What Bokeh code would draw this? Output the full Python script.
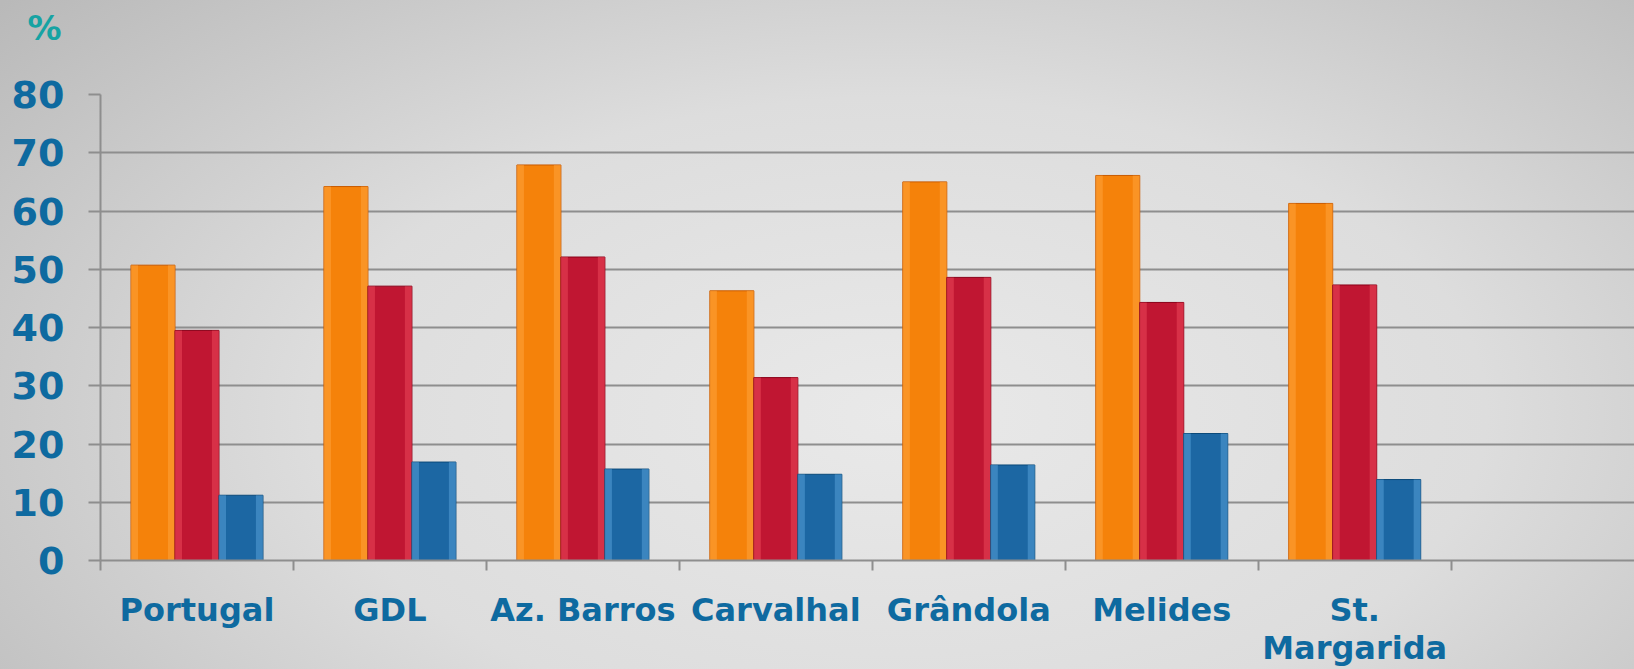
from bokeh.plotting import figure
from bokeh.models import Range1d, FixedTicker, Title
from bokeh.embed import file_html
from bokeh.resources import INLINE
import numpy as np

categories = ["Portugal", "GDL", "Az. Barros", "Carvalhal", "Grândola", "Melides", "St.\nMargarida"]
series_orange = [50.7, 64.2, 67.9, 46.3, 65.0, 66.1, 61.3]
series_red = [39.5, 47.1, 52.1, 31.4, 48.6, 44.3, 47.3]
series_blue = [11.2, 16.9, 15.7, 14.8, 16.4, 21.8, 13.9]
y_ticks = [0, 10, 20, 30, 40, 50, 60, 70, 80]
unit_label = "%"

LABEL_BLUE = "#0e6aa0"
GRID = "#8e8e8e"
FONT = "DejaVu Sans"

p = figure(width=1634, height=669, x_range=Range1d(0, 7.95), y_range=Range1d(0, 80),
           output_backend="svg", toolbar_location=None,
           min_border_left=100, min_border_right=0, min_border_top=94, min_border_bottom=109)
p.outline_line_color = None
p.border_fill_color = None
p.background_fill_color = None
p.styles = {"background": "radial-gradient(ellipse 72% 95% at 55% 62%, #e9e9e9 0%, #dddddd 50%, #b9b9b9 100%)"}

p.title.visible = False
p.title.standoff = 0
# spacer (a blank title) between the frame and the unit label
p.add_layout(Title(text=" ", text_font_size="10px", standoff=27, text_color="#dddddd"), "above")
p.add_layout(Title(text=unit_label, align="left", vertical_align="top", offset=-73, standoff=10,
                   text_font=FONT, text_font_style="bold", text_font_size="34px",
                   text_color="#16a3a3"), "above")

n = len(categories)
centers = np.arange(n) + 0.5
bw = 0.228
series = [
    (series_orange, -bw, "#f5820a", "#ffa640", "#c85a00"),
    (series_red, 0.0, "#c01632", "#ee4a5c", "#8a0018"),
    (series_blue, bw, "#1c67a3", "#5aa3dc", "#0b4a7a"),
]
for vals, off, col, light, dark in series:
    xs = centers + off
    p.vbar(x=xs, top=vals, width=bw, bottom=0, fill_color=col, line_color=dark, line_width=1)
    # bevel highlights on the sides
    p.vbar(x=xs - bw * 0.42, top=vals, width=bw * 0.16, bottom=0, fill_color=light,
           fill_alpha=0.5, line_color=None)
    p.vbar(x=xs + bw * 0.42, top=vals, width=bw * 0.16, bottom=0, fill_color=light,
           fill_alpha=0.5, line_color=None)

# x axis: labels at category centres, ticks (minor) at category boundaries
p.xaxis.ticker = FixedTicker(ticks=list(centers), minor_ticks=list(range(n + 1)))
p.xaxis.major_label_overrides = {float(c): name for c, name in zip(centers, categories)}
p.xaxis.major_tick_out = 0
p.xaxis.major_tick_in = 0
p.xaxis.minor_tick_out = 10
p.xaxis.minor_tick_in = 0
p.xaxis.minor_tick_line_color = GRID
p.xaxis.minor_tick_line_width = 2
p.xaxis.axis_line_color = GRID
p.xaxis.axis_line_width = 2
p.xaxis.major_label_text_font = FONT
p.xaxis.major_label_text_font_style = "bold"
p.xaxis.major_label_text_font_size = "32px"
p.xaxis.major_label_text_color = LABEL_BLUE
p.xaxis.major_label_text_line_height = 1.0
p.xaxis.major_label_standoff = 20

# y axis
p.yaxis.ticker = FixedTicker(ticks=y_ticks)
p.yaxis.major_tick_out = 12
p.yaxis.major_tick_in = 0
p.yaxis.major_tick_line_color = GRID
p.yaxis.major_tick_line_width = 2
p.yaxis.minor_tick_line_color = None
p.yaxis.axis_line_color = GRID
p.yaxis.axis_line_width = 2
p.yaxis.major_label_text_font = FONT
p.yaxis.major_label_text_font_style = "bold"
p.yaxis.major_label_text_font_size = "38px"
p.yaxis.major_label_text_color = LABEL_BLUE
p.yaxis.major_label_standoff = 24

p.xgrid.visible = False
p.ygrid.ticker = FixedTicker(ticks=y_ticks)
p.ygrid.grid_line_color = GRID
p.ygrid.grid_line_width = 2

open("out.html", "w").write(file_html(p, INLINE))
